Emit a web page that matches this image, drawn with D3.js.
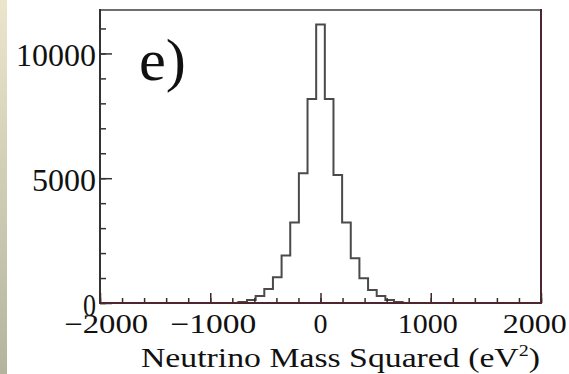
<!DOCTYPE html>
<html>
<head>
<meta charset="utf-8">
<script src="https://cdn.jsdelivr.net/npm/d3@7"></script>
<style>
  html, body { margin: 0; padding: 0; background: #fff; }
  svg { display: block; }
  text { font-family: "Liberation Serif", "Times New Roman", serif; fill: #111; }
</style>
</head>
<body>
<svg id="chart" width="569" height="374"></svg>
<script>
// Histogram of reconstructed neutrino mass squared, 51 bins over [-2000, 2000] eV^2
const binRange = [-2000, 2000];
const binCount = 51;
const counts = [
  0, 0, 0, 0, 0, 0, 0, 0, 0, 0, 0, 0, 0, 0, 0, 0,
  40, 120, 280, 560, 1030, 1900, 3230, 5200, 8170,
  11160,
  8170, 5130, 3230, 1790, 990, 520, 280, 120, 40,
  0, 0, 0, 0, 0, 0, 0, 0, 0, 0, 0, 0, 0, 0, 0, 0
];
const yMax = 11740;

const xMajor = [-2000, -1000, 0, 1000, 2000];
const xMinor = d3.range(-2000, 2001, 200);
const yMajor = [0, 5000, 10000];
const yMinor = d3.range(0, 11001, 1000);
const xTickLabels = ["\u22122000", "\u22121000", "0", "1000", "2000"];
const yTickLabels = ["0", "5000", "10000"];
const xTitle = "Neutrino Mass Squared (eV";
const panelLabel = "e)";

const svg = d3.select("#chart");

// pale strip along the left edge of the page
const grad = svg.append("defs").append("linearGradient")
  .attr("id", "strip").attr("x1", 0).attr("y1", 0).attr("x2", 0).attr("y2", 1);
grad.append("stop").attr("offset", "0%").attr("stop-color", "#ebe5cc");
grad.append("stop").attr("offset", "100%").attr("stop-color", "#b4b49d");
svg.append("rect").attr("x", 0).attr("y", 0).attr("width", 7).attr("height", 374)
  .attr("fill", "url(#strip)");

const frame = { left: 100, right: 541, top: 10, bottom: 303 };
const x = d3.scaleLinear().domain(binRange).range([frame.left, frame.right]);
const y = d3.scaleLinear().domain([0, yMax]).range([frame.bottom, frame.top]);

// bin edges
const step = (binRange[1] - binRange[0]) / binCount;
const edges = d3.range(binCount + 1).map(i => binRange[0] + i * step);

// step outline of the histogram
const pts = [];
counts.forEach((c, i) => {
  pts.push([edges[i], c]);
  pts.push([edges[i + 1], c]);
});
const line = d3.line().x(d => x(d[0])).y(d => y(d[1]));
svg.append("path")
  .attr("d", line(pts))
  .attr("fill", "none")
  .attr("stroke", "#4a4a4a")
  .attr("stroke-width", 2)
  .attr("stroke-linejoin", "miter");

// frame
svg.append("line").attr("x1", frame.left).attr("x2", frame.right)
  .attr("y1", frame.top).attr("y2", frame.top)
  .attr("stroke", "#6e6e6e").attr("stroke-width", 2);
svg.append("line").attr("x1", frame.right).attr("x2", frame.right)
  .attr("y1", frame.top - 1).attr("y2", frame.bottom)
  .attr("stroke", "#4d2630").attr("stroke-width", 2);

// y axis (ticks pointing into the plot)
const yAxisMinor = d3.axisRight(y).tickValues(yMinor).tickSize(6).tickFormat("");
const yAxisMajor = d3.axisRight(y).tickValues(yMajor).tickSize(12).tickFormat("");
[yAxisMinor, yAxisMajor].forEach(ax => {
  const g = svg.append("g").attr("transform", `translate(${frame.left},0)`).call(ax);
  g.select(".domain").remove();
  g.selectAll(".tick line").attr("stroke", "#333").attr("stroke-width", 1.5);
});
svg.append("line").attr("x1", frame.left).attr("x2", frame.left)
  .attr("y1", frame.top - 1).attr("y2", frame.bottom)
  .attr("stroke", "#333").attr("stroke-width", 2);

// x axis (ticks pointing up)
const xAxisMinor = d3.axisTop(x).tickValues(xMinor).tickSize(5).tickFormat("");
const xAxisMajor = d3.axisTop(x).tickValues(xMajor).tickSize(10).tickFormat("");
[xAxisMinor, xAxisMajor].forEach(ax => {
  const g = svg.append("g").attr("transform", `translate(0,${frame.bottom})`).call(ax);
  g.select(".domain").remove();
  g.selectAll(".tick line").attr("stroke", "#3a2a2a").attr("stroke-width", 1.5);
});
svg.append("line").attr("x1", frame.left - 1).attr("x2", frame.right + 1)
  .attr("y1", frame.bottom).attr("y2", frame.bottom)
  .attr("stroke", "#4d2630").attr("stroke-width", 2.2);

// x tick labels
const xLabelWidths = [84, 86, 14, 60, 64];
const labelSpread = 0.972;
svg.append("g").selectAll("text").data(xMajor).join("text")
  .attr("x", d => x(d * labelSpread))
  .attr("y", 333)
  .attr("text-anchor", "middle")
  .attr("font-size", 27)
  .attr("textLength", (d, i) => xLabelWidths[i])
  .attr("lengthAdjust", "spacingAndGlyphs")
  .text((d, i) => xTickLabels[i]);

// y tick labels (the zero label sits on top of the first x label)
const yLabelWidths = [13, 64, 80];
svg.append("g").selectAll("text").data(yMajor).join("text")
  .attr("x", 96)
  .attr("y", d => y(d) + 13)
  .attr("text-anchor", "end")
  .attr("font-size", 31)
  .attr("textLength", (d, i) => yLabelWidths[i])
  .attr("lengthAdjust", "spacingAndGlyphs")
  .text((d, i) => yTickLabels[i]);

// x axis title with superscript
const title = svg.append("text")
  .attr("x", 141).attr("y", 367)
  .attr("font-size", 27)
  .attr("textLength", 399)
  .attr("lengthAdjust", "spacingAndGlyphs");
title.append("tspan").text(xTitle);
title.append("tspan").attr("font-size", 16).attr("dy", -11).text("2");
title.append("tspan").attr("dy", 11).text(")");

// panel label
svg.append("text")
  .attr("x", 139).attr("y", 80)
  .attr("font-size", 60)
  .attr("textLength", 47)
  .attr("lengthAdjust", "spacingAndGlyphs")
  .text(panelLabel);
</script>
</body>
</html>
